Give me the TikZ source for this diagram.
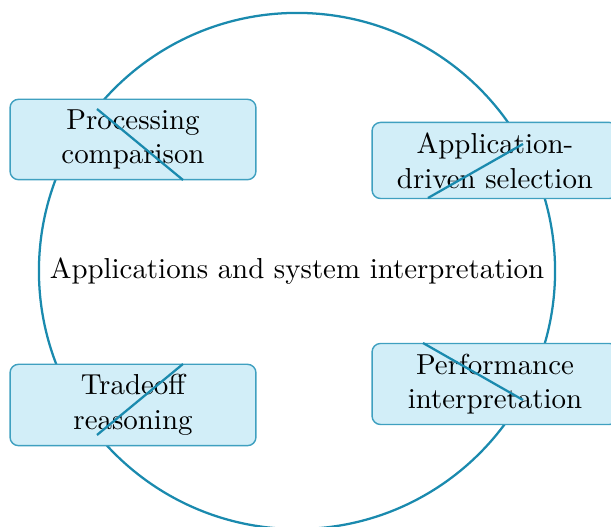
\documentclass[tikz,border=0pt]{standalone}
\usetikzlibrary{positioning}
\definecolor{ringblue}{HTML}{1A8AAE}
\definecolor{boxfill}{HTML}{D2EEF8}
\definecolor{boxedge}{HTML}{3FA0C0}
\begin{document}
\begin{tikzpicture}[x=0.353pt,y=-0.353pt,
  every node/.style={font=\fontsize{10.2}{12.24}\selectfont},
  topicbox/.style={draw=boxedge,fill=boxfill,line width=0.5pt,rounded corners=3pt,
    minimum width=86.8pt,align=center,inner xsep=2pt,inner ysep=3.6pt},
  spoke/.style={draw=ringblue,line width=0.8pt}]
\useasboundingbox (0,0) rectangle (611,527);
% central ring
\draw[ringblue,line width=0.8pt] (297,271) circle[radius=91.1pt];
\node (hub) at (297,271) {Applications and system interpretation};
% topic boxes
\node[topicbox] (proc) at (133,139.5) {Processing\\comparison};
\node[topicbox] (appl) at (495,160.5) {Application-\\driven selection};
\node[topicbox] (trade) at (133,405) {Tradeoff\\reasoning};
\node[topicbox] (perf) at (495,384) {Performance\\interpretation};
% spoke segments
\coordinate (p1) at (97,109);  \coordinate (p2) at (183,180);
\coordinate (a1) at (523,144); \coordinate (a2) at (428,198);
\coordinate (t1) at (183,364); \coordinate (t2) at (97,435);
\coordinate (q1) at (423,343); \coordinate (q2) at (523,400);
\draw[spoke] (p1) -- (p2);
\draw[spoke] (a1) -- (a2);
\draw[spoke] (t1) -- (t2);
\draw[spoke] (q1) -- (q2);
\end{tikzpicture}
\end{document}
